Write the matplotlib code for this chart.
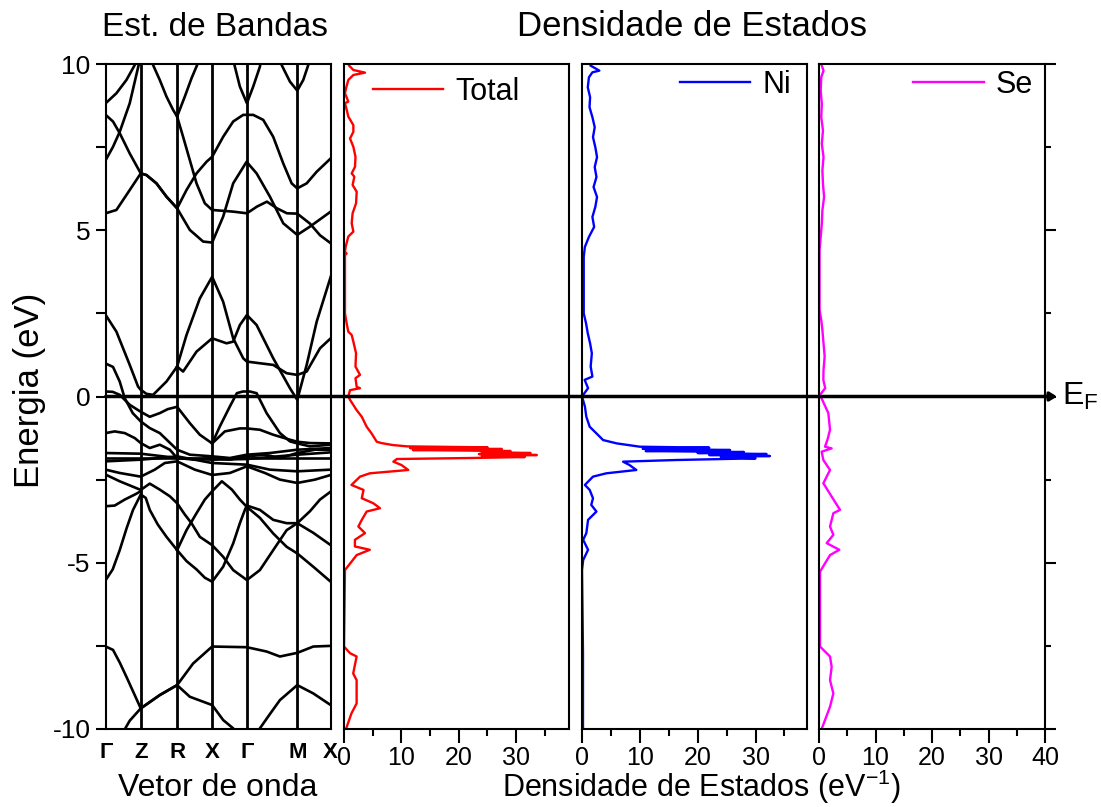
import matplotlib
matplotlib.use("Agg")
import matplotlib.pyplot as plt
from matplotlib.patches import FancyArrowPatch
from matplotlib.transforms import blended_transform_factory
from matplotlib.ticker import MultipleLocator

plt.rcParams['font.family'] = ['Liberation Sans', 'DejaVu Sans']
plt.rcParams['mathtext.fontset'] = 'custom'
plt.rcParams['mathtext.rm'] = 'Liberation Sans'

# high symmetry points along the k path
k_labels = ['Γ', 'Z', 'R', 'X', 'Γ', 'M', 'X']
k_sym = [0, 35, 71.3, 106.3, 141, 191.3, 224.7]

# bands: (k, E) pairs
bands = [
    [(0, 8.82), (10.7, 9.12), (20.7, 9.52), (29, 9.97), (35, 10.3)],
    [(0, 8.47), (7.3, 8.27), (14, 7.92), (24, 7.31), (35, 6.71), (40.7, 6.66), (50.7, 6.41), (60.7, 6.01),
     (71.3, 5.66), (80.7, 6.21), (90.7, 6.71), (100.7, 7.06), (106.3, 7.21), (117.3, 7.81), (127.3, 8.27),
     (137.3, 8.47), (147.3, 8.47), (157.3, 8.32), (167.3, 7.81), (177.3, 7.01), (185.7, 6.41), (191.3, 6.26),
     (200.7, 6.41), (210.7, 6.76), (224.7, 7.16)],
    [(0, 7.11), (7.3, 7.51), (14, 7.96), (24, 8.82), (33.3, 10.02), (35, 10.3)],
    [(0, 5.51), (10.7, 5.61), (24, 6.21), (35, 6.71), (40.7, 6.66), (50.7, 6.41), (60.7, 6.01), (71.3, 5.66),
     (84, 5.01), (97.3, 4.66), (106.3, 4.63), (117.3, 5.41), (127.3, 6.41), (140.7, 7.06), (150.7, 6.71),
     (164, 6.01), (177.3, 5.21), (191.3, 4.86), (204, 5.11), (224.7, 5.56)],
    [(43, 10.3), (47.3, 9.97), (54, 9.52), (60.7, 9.02), (67.3, 8.62), (71.3, 8.42), (79, 9.02), (85.7, 9.57),
     (91.3, 9.97), (94, 10.3)],
    [(71.3, 8.42), (77.3, 7.81), (84, 7.11), (90.7, 6.41), (99, 5.81), (106.3, 5.61), (127.3, 5.56),
     (141, 5.51), (151, 5.71), (161, 5.86), (171, 5.66), (181, 5.51), (191.3, 5.5), (204, 5.2), (214, 4.85),
     (224.7, 4.61)],
    [(126, 10.3), (129, 9.92), (134, 9.32), (141, 8.82), (147.3, 9.32), (154, 9.92), (156, 10.3)],
    [(173.5, 10.3), (175.7, 9.97), (184, 9.47), (191.3, 9.2), (197.3, 9.52), (202.3, 9.97), (204.5, 10.3)],
    [(0, 2.45), (10.7, 1.95), (24, 0.95), (32.3, 0.3), (35, 0.2), (40.7, 0.08), (47.3, 0.05), (54, 0.25),
     (60.7, 0.45), (71.3, 0.9), (80.7, 1.85), (94, 2.95), (106.3, 3.6), (117.3, 2.85), (127.3, 1.75),
     (137.3, 1.15), (141, 1.05), (154, 1.0), (167.3, 0.95), (180.7, 0.7), (191.3, 0.65), (200.7, 0.75),
     (214, 1.45), (224.7, 1.75)],
    [(71.3, 0.9), (77.3, 0.75), (90.7, 1.35), (106.3, 1.75), (120.7, 1.6), (127.3, 1.65), (134, 2.15),
     (141, 2.45), (150.7, 2.15), (167.3, 1.15), (184, 0.25), (191.3, -0.1), (200.7, 0.95), (210.7, 2.25),
     (224.7, 3.6)],
    [(0, 0.99), (7.3, 0.89), (14, 0.45), (19, -0.05), (27, -0.5), (35, -0.75), (44, -0.95), (54, -1.1),
     (71.3, -1.6), (84, -1.75), (106.3, -1.8), (124, -1.85), (141, -1.75), (164, -1.7), (191.3, -1.6),
     (224.7, -1.55)],
    [(0, 0.15), (7, 0.14), (14, 0.05), (24, -0.25), (35, -0.46), (44, -0.61), (54, -0.5), (62, -0.38),
     (71.3, -0.31), (84, -0.8), (94, -1.15), (106.3, -1.41), (119, -1.05), (134, -0.96), (141, -0.96),
     (154, -1.0), (167.3, -1.15), (184, -1.3), (191.3, -1.36), (204, -1.4), (224.7, -1.41)],
    [(106.3, -1.41), (114, -0.9), (124, -0.3), (131, 0.1), (137, 0.15), (144, 0.15), (150.7, 0.1),
     (160.7, -0.5), (174, -1.1), (184, -1.35), (191.3, -1.41), (204, -1.5), (224.7, -1.45)],
    [(0, -1.1), (9, -1.05), (19, -1.1), (29, -1.25), (35, -1.4), (44, -1.55), (54, -1.45), (64, -1.6),
     (71.3, -1.85), (89, -1.9), (106.3, -1.85), (124, -1.9), (141, -1.8), (159, -1.75), (174, -1.85),
     (191.3, -1.7), (209, -1.6), (224.7, -1.6)],
    [(0, -1.85), (224.7, -1.85)],
    [(0, -1.7), (35, -1.72), (71.3, -1.85), (106.3, -1.9), (141, -1.88), (191.3, -1.75), (224.7, -1.68)],
    [(0, -1.95), (35, -1.9), (54, -1.85), (71.3, -1.8), (106.3, -2.0), (141, -2.05), (164, -2.2),
     (191.3, -2.25), (224.7, -2.2)],
    [(0, -2.2), (14, -2.3), (35, -2.41), (49, -2.2), (59, -2.0), (71.3, -1.95), (89, -2.2), (106.3, -2.36),
     (124, -2.3), (141, -2.1), (159, -2.3), (174, -2.5), (191.3, -2.6), (209, -2.5), (224.7, -2.36)],
    [(0, -2.35), (14, -2.55), (35, -2.81), (44, -2.62), (54, -2.8), (64, -3.0), (71.3, -3.21), (79, -3.55),
     (85.7, -3.81), (94, -4.22), (106.3, -4.47), (117.3, -4.82), (127.3, -5.22), (141, -5.52), (154, -5.22),
     (167.3, -4.62), (180.7, -4.02), (191.3, -3.81), (204, -3.45), (214, -3.1), (224.7, -2.86)],
    [(0, -5.52), (7, -5.2), (14, -4.62), (21, -3.95), (27.3, -3.41), (35, -2.95), (40, -3.05), (44, -3.41),
     (52, -3.85), (60.7, -4.22), (71.3, -4.62), (80.7, -4.95), (90.7, -5.2), (99, -5.45), (106.3, -5.57),
     (117.3, -5.12), (127.3, -4.42), (134, -3.81), (139, -3.41), (141, -3.28), (154, -3.41), (167.3, -3.71),
     (180.7, -3.81), (191.3, -3.81), (207.3, -4.1), (224.7, -4.47)],
    [(71.3, -4.62), (80.7, -4.02), (90.7, -3.51), (99, -3.1), (106.3, -2.85), (116, -2.55), (126, -2.8),
     (134, -3.1), (141, -3.32), (154, -3.65), (167.3, -4.12), (180.7, -4.52), (191.3, -4.72), (207.3, -5.12),
     (224.7, -5.57)],
    [(0, -3.3), (9, -3.28), (19, -3.1), (29, -2.95), (35, -2.85)],
    [(0, -7.52), (7.3, -7.62), (14, -8.0), (20.7, -8.43), (35, -9.38), (54, -8.98), (71.3, -8.68),
     (87.3, -8.03), (106.3, -7.52), (141, -7.54), (160.7, -7.67), (174, -7.82), (191.3, -7.71),
     (207.3, -7.52), (224.7, -7.50)],
    [(17.3, -10.1), (24, -9.75), (35, -9.38), (54, -8.98), (71.3, -8.68), (84, -9.03), (106.3, -9.28),
     (117.3, -9.73), (127.3, -9.98), (130, -10.1)],
    [(152, -10.1), (154, -9.98), (164, -9.55), (174, -9.13), (191.3, -8.68), (207.3, -8.93), (224.7, -9.28)],
]

# densities of states (energy, DOS)
dos_total = [
    (9.95, 0.9), (9.82, 1.63), (9.74, 3.66), (9.67, 1.63), (9.52, 0.75), (9.3, 0.4), (9.12, 0.17),
    (8.87, 0.75), (8.82, 0.17), (8.6, 0.5), (8.42, 0.75), (8.16, 1.63), (7.96, 1.63), (7.76, 1.05),
    (7.51, 1.63), (7.21, 2.0), (6.91, 1.92), (6.71, 1.34), (6.61, 1.8), (6.36, 1.5), (6.16, 2.21),
    (5.81, 2.1), (5.51, 1.5), (5.21, 1.34), (4.96, 1.63), (4.81, 0.75), (4.51, 0.3), (4.35, 0.17),
    (4.3, 0.45), (4.25, 0.17), (3.4, 0.17), (2.5, 0.17), (2.2, 0.46), (1.95, 0.75), (1.85, 1.34),
    (1.65, 1.63), (1.3, 2.1), (0.9, 2.0), (0.65, 2.79), (0.55, 2.0), (0.29, 2.21), (0.25, 2.79),
    (0.19, 1.05), (0.0, 0.75), (-0.1, 1.05), (-0.41, 2.2), (-0.61, 3.1), (-0.91, 3.95), (-1.11, 4.8),
    (-1.36, 5.7), (-1.40, 6.5), (-1.46, 8.5), (-1.50, 11.0), (-1.53, 25.0), (-1.55, 11.5), (-1.58, 27.5),
    (-1.61, 12.0), (-1.64, 29.0), (-1.67, 24.0), (-1.70, 32.5), (-1.73, 23.5), (-1.76, 33.6), (-1.79, 24.0),
    (-1.82, 31.5), (-1.85, 22.0), (-1.88, 9.2), (-1.96, 8.6), (-2.06, 10.0), (-2.21, 11.2), (-2.31, 4.5),
    (-2.41, 2.8), (-2.66, 1.3), (-2.81, 3.4), (-3.06, 3.1), (-3.21, 5.1), (-3.36, 6.27), (-3.46, 3.95),
    (-3.71, 3.1), (-3.91, 2.5), (-4.11, 3.66), (-4.31, 1.9), (-4.51, 1.9), (-4.61, 4.5), (-4.77, 2.2),
    (-4.97, 1.3), (-5.22, 0.17), (-7.52, 0.0), (-7.72, 1.05), (-7.82, 2.2), (-8.33, 1.6), (-8.53, 2.2),
    (-8.93, 2.2), (-9.23, 2.2), (-9.53, 1.3), (-10.0, 0.35),
]
dos_ni = [
    (9.95, 1.5), (9.85, 2.5), (9.8, 3.0), (9.75, 1.8), (9.6, 1.2), (9.3, 1.0), (9.0, 1.4), (8.7, 1.3),
    (8.4, 1.8), (8.1, 2.2), (7.8, 1.9), (7.5, 2.3), (7.2, 2.6), (6.9, 2.2), (6.6, 2.5), (6.3, 2.0),
    (6.0, 2.6), (5.7, 2.3), (5.4, 1.8), (5.1, 2.1), (4.8, 1.2), (4.5, 0.5), (4.2, 0.3), (3.4, 0.3),
    (2.5, 0.3), (2.2, 0.7), (1.9, 1.0), (1.6, 1.4), (1.3, 1.7), (0.9, 1.5), (0.6, 1.8), (0.5, 0.46),
    (0.25, 1.05), (0.0, 0.0), (-0.3, 0.5), (-0.61, 0.75), (-0.91, 1.33), (-1.11, 2.5), (-1.31, 3.65),
    (-1.41, 6.0), (-1.51, 10.0), (-1.54, 22.0), (-1.57, 10.5), (-1.61, 25.6), (-1.64, 11.0), (-1.67, 28.0),
    (-1.70, 20.0), (-1.73, 31.9), (-1.76, 22.0), (-1.79, 32.5), (-1.82, 24.0), (-1.86, 30.0), (-1.91, 16.3),
    (-1.96, 7.1), (-2.06, 8.2), (-2.21, 9.4), (-2.31, 4.2), (-2.41, 1.9), (-2.66, 0.5), (-2.81, 1.33),
    (-3.06, 1.9), (-3.26, 1.6), (-3.46, 2.5), (-3.71, 1.05), (-4.11, 0.75), (-4.31, 0.2), (-4.61, 1.05),
    (-4.92, 0.2), (-5.22, 0.0), (-7.72, 0.17), (-10.0, 0.17),
]
dos_se = [
    (9.95, 0.5), (9.8, 0.8), (9.6, 0.4), (9.2, 0.3), (8.8, 0.5), (8.4, 0.4), (8.0, 0.7), (7.6, 0.5),
    (7.2, 0.8), (6.8, 0.6), (6.4, 0.7), (6.0, 0.9), (5.6, 0.6), (5.2, 0.5), (4.8, 0.3), (4.4, 0.1),
    (2.6, 0.1), (2.3, 0.4), (2.0, 0.6), (1.6, 0.8), (1.2, 1.0), (0.8, 0.8), (0.5, 0.77), (0.25, 1.1),
    (0.05, 0.18), (-0.06, 0.47), (-0.5, 1.65), (-1.0, 1.95), (-1.3, 1.5), (-1.51, 1.06), (-1.56, 2.24),
    (-1.66, 0.47), (-1.91, 0.77), (-2.21, 1.95), (-2.61, 0.77), (-3.01, 2.24), (-3.41, 3.72), (-3.51, 2.54),
    (-3.91, 1.95), (-4.16, 2.54), (-4.41, 1.36), (-4.61, 3.6), (-4.77, 1.95), (-5.02, 1.06), (-5.27, 0.18),
    (-7.52, 0.18), (-7.82, 1.95), (-8.13, 2.24), (-8.53, 1.95), (-8.93, 2.54), (-9.33, 1.95), (-10.0, 0.47),
]

W, H = 1101, 807
fig = plt.figure(figsize=(W / 100, H / 100), dpi=100)


def box(left, right, top=64, bottom=729):
    return [left / W, (H - bottom) / H, (right - left) / W, (bottom - top) / H]


ax_b = fig.add_axes(box(105.7, 330.7))
ax_t = fig.add_axes(box(344, 569))
ax_n = fig.add_axes(box(582, 807))
ax_s = fig.add_axes(box(819, 1045))

# band structure
for b in bands:
    ax_b.plot([p[0] for p in b], [p[1] for p in b], color='black', lw=1.9, solid_joinstyle='round')
for k in k_sym[1:-1]:
    ax_b.axvline(k, color='black', lw=2)
ax_b.set_xlim(k_sym[0], k_sym[-1])
ax_b.set_ylim(-10, 10)
ax_b.set_xticks(k_sym)
ax_b.set_xticklabels(k_labels, fontweight='bold', fontsize=16)
ax_b.tick_params(axis='x', length=0, pad=9)
ax_b.set_yticks([-10, -5, 0, 5, 10])
ax_b.set_yticklabels(['-10', '-5', '0', '5', '10'])
ax_b.yaxis.set_minor_locator(MultipleLocator(2.5))
ax_b.tick_params(axis='y', which='both', direction='out', length=7, width=1.5, labelsize=19, pad=4)

# DOS panels: legend anchors in axes fraction
panels = [(ax_t, dos_total, 'red', 'Total', 39.2, 'upper left', (0.10, 0.99), [0, 10, 20, 30]),
          (ax_n, dos_ni, 'blue', 'Ni', 38.9, 'upper right', (0.955, 1.0), [0, 10, 20, 30]),
          (ax_s, dos_se, '#ff00ff', 'Se', 40, 'upper right', (0.975, 1.0), [0, 10, 20, 30, 40])]
for ax, d, c, lab, xmax, loc, anchor, ticks in panels:
    ax.plot([p[1] for p in d], [p[0] for p in d], color=c, lw=1.7, label=lab)
    ax.set_xlim(0, xmax)
    ax.set_ylim(-10, 10)
    ax.set_xticks(ticks)
    ax.xaxis.set_minor_locator(MultipleLocator(5))
    ax.tick_params(axis='x', which='major', direction='out', length=10, width=1.5, labelsize=18, pad=2)
    ax.tick_params(axis='x', which='minor', direction='out', length=5, width=1.5)
    ax.set_yticks([])
    ax.legend(loc=loc, bbox_to_anchor=anchor, frameon=False, fontsize=22, handlelength=2.3,
              handletextpad=0.4, borderaxespad=0, borderpad=0.2)

ax_s.yaxis.tick_right()
ax_s.yaxis.set_major_locator(MultipleLocator(5))
ax_s.yaxis.set_minor_locator(MultipleLocator(2.5))
ax_s.tick_params(axis='y', which='major', direction='out', length=8, width=1.5, labelright=False)
ax_s.tick_params(axis='y', which='minor', direction='out', length=4, width=1.5)

for ax in [ax_b, ax_t, ax_n, ax_s]:
    for sp in ax.spines.values():
        sp.set_linewidth(1.5)

# Fermi level across all panels
trans = blended_transform_factory(fig.transFigure, ax_b.transData)
ef = FancyArrowPatch((105.7 / W, 0), (1057 / W, 0), transform=trans,
                     arrowstyle='-|>,head_length=4,head_width=2.5',
                     lw=2.5, color='black', shrinkA=0, shrinkB=0, mutation_scale=1)
fig.add_artist(ef)
fig.text(1062 / W, 0, 'E$_\\mathrm{F}$', transform=trans, fontsize=23, va='center', ha='left')

fig.text(215 / W, 1 - 27 / H, 'Est. de Bandas', fontsize=24, ha='center', va='center')
fig.text(692 / W, 1 - 27 / H, 'Densidade de Estados', fontsize=25, ha='center', va='center')
fig.text(218 / W, 4 / H, 'Vetor de onda', fontsize=23, ha='center', va='bottom')
fig.text(701 / W, 1 / H, 'Densidade de Estados (eV$^{-1}$)', fontsize=22, ha='center', va='bottom')
fig.text(30 / W, 1 - 390 / H, 'Energia (eV)', fontsize=25, ha='center', va='center', rotation=90)

fig.savefig('out.png', dpi=100)
